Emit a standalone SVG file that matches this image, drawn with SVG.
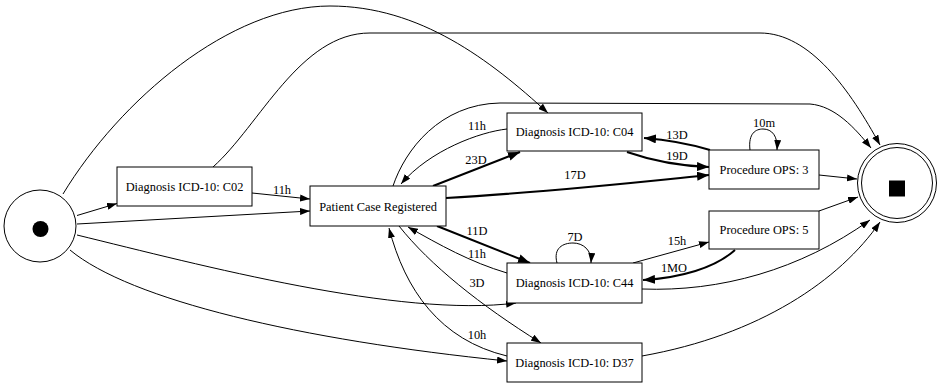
<svg xmlns="http://www.w3.org/2000/svg" width="939" height="383" viewBox="0 0 939 383">
<style>
.node rect{fill:#fff;stroke:#000;stroke-width:1}
.node text,.lbl{font-family:"Liberation Serif","Times New Roman",serif;font-size:12.4px;fill:#000;text-anchor:middle}
.e{fill:none;stroke:#000;stroke-width:1;marker-end:url(#arr)}
.b{fill:none;stroke:#000;stroke-width:2;marker-end:url(#arrb)}
</style>
<defs>
<marker id="arr" viewBox="0 0 10 7" refX="10" refY="3.5" markerWidth="10" markerHeight="7" markerUnits="userSpaceOnUse" orient="auto"><path d="M0,0 L10,3.5 L0,7 z" fill="#000"/></marker>
<marker id="arrb" viewBox="0 0 12 9" refX="12" refY="4.5" markerWidth="12" markerHeight="9" markerUnits="userSpaceOnUse" orient="auto"><path d="M0,0 L12,4.5 L0,9 z" fill="#000"/></marker>
</defs>
<rect width="939" height="383" fill="#fff"/>
<g id="connectors">
<path class="e" d="M77,215.5 L117,203.5"/>
<path class="e" d="M77,224 L310,211"/>
<path class="e" d="M252,193 L310,199"/>
<path class="e" d="M77,235 C200,265 400,318 516,303"/>
<path class="e" d="M70,250 C130,300 300,340 507,361"/>
<path class="e" d="M63,194 C120,100 230,6 330,6 C420,6 490,60 548,113"/>
<path class="e" d="M213,167 C260,125 300,33 370,33 L760,33 C810,33 850,90 880,145"/>
<path class="e" d="M393,186 C405,150 440,104 500,103 L810,104 C835,106 855,128 871,148"/>
<path class="e" d="M507,129 C480,132 430,150 401,184"/>
<path class="b" d="M433,186 L520,152"/>
<path class="b" d="M446,198 C550,192 640,182 709,175"/>
<path class="b" d="M627,152 C650,160 680,166 709,167"/>
<path class="b" d="M710,150 C690,144 670,140 644,138"/>
<path class="e" d="M750,150 C748,133 756,129 763,129 C772,129 778,136 777,150"/>
<path class="e" d="M819,175 L857,179"/>
<path class="e" d="M819,211 L858,197"/>
<path class="e" d="M642,289 C720,292 800,270 870,220"/>
<path class="e" d="M642,356 C760,335 840,280 880,222"/>
<path class="e" d="M633,263 L709,242"/>
<path class="b" d="M735,250 C715,268 680,278 643,280"/>
<path class="e" d="M557,263 C553,248 563,243 573,243 C583,243 592,250 591,263"/>
<path class="b" d="M437,226 L530,263"/>
<path class="e" d="M507,273 C470,262 440,245 408,227"/>
<path class="e" d="M399,226 C430,265 480,305 541,343"/>
<path class="e" d="M507,356 C440,340 405,290 389,228"/>
<text class="lbl" x="282" y="194">11h</text>
<text class="lbl" x="477" y="130">11h</text>
<text class="lbl" x="476" y="164">23D</text>
<text class="lbl" x="575" y="179">17D</text>
<text class="lbl" x="677" y="139">13D</text>
<text class="lbl" x="677" y="160">19D</text>
<text class="lbl" x="764" y="127">10m</text>
<text class="lbl" x="477" y="235">11D</text>
<text class="lbl" x="477" y="258">11h</text>
<text class="lbl" x="575" y="241">7D</text>
<text class="lbl" x="677" y="245">15h</text>
<text class="lbl" x="674" y="272">1MO</text>
<text class="lbl" x="477" y="287">3D</text>
<text class="lbl" x="477" y="339">10h</text>
</g>
<g id="start">
<circle cx="40" cy="226" r="36" fill="#fff" stroke="#000"/>
<circle cx="40.5" cy="229" r="8" fill="#000"/>
</g>
<g id="end">
<circle cx="897" cy="183" r="39.5" fill="#fff" stroke="#000"/>
<circle cx="897" cy="183" r="35.5" fill="none" stroke="#000"/>
<rect x="889" y="180.5" width="16" height="16" fill="#000"/>
</g>
<g id="c02" class="node"><rect x="117" y="167" width="135" height="39"/><text x="184.5" y="191">Diagnosis ICD-10: C02</text></g>
<g id="pcr" class="node"><rect x="310" y="186" width="136" height="40"/><text x="378" y="210.5">Patient Case Registered</text></g>
<g id="c04" class="node"><rect x="507" y="113" width="135" height="38"/><text x="574.5" y="136">Diagnosis ICD-10: C04</text></g>
<g id="ops3" class="node"><rect x="709" y="150" width="110" height="39"/><text x="764" y="173.5">Procedure OPS: 3</text></g>
<g id="ops5" class="node"><rect x="709" y="211" width="110" height="38"/><text x="764" y="234">Procedure OPS: 5</text></g>
<g id="c44" class="node"><rect x="507" y="263" width="135" height="40"/><text x="574.5" y="287">Diagnosis ICD-10: C44</text></g>
<g id="d37" class="node"><rect x="507" y="343" width="135" height="39"/><text x="574.5" y="367">Diagnosis ICD-10: D37</text></g>
</svg>
